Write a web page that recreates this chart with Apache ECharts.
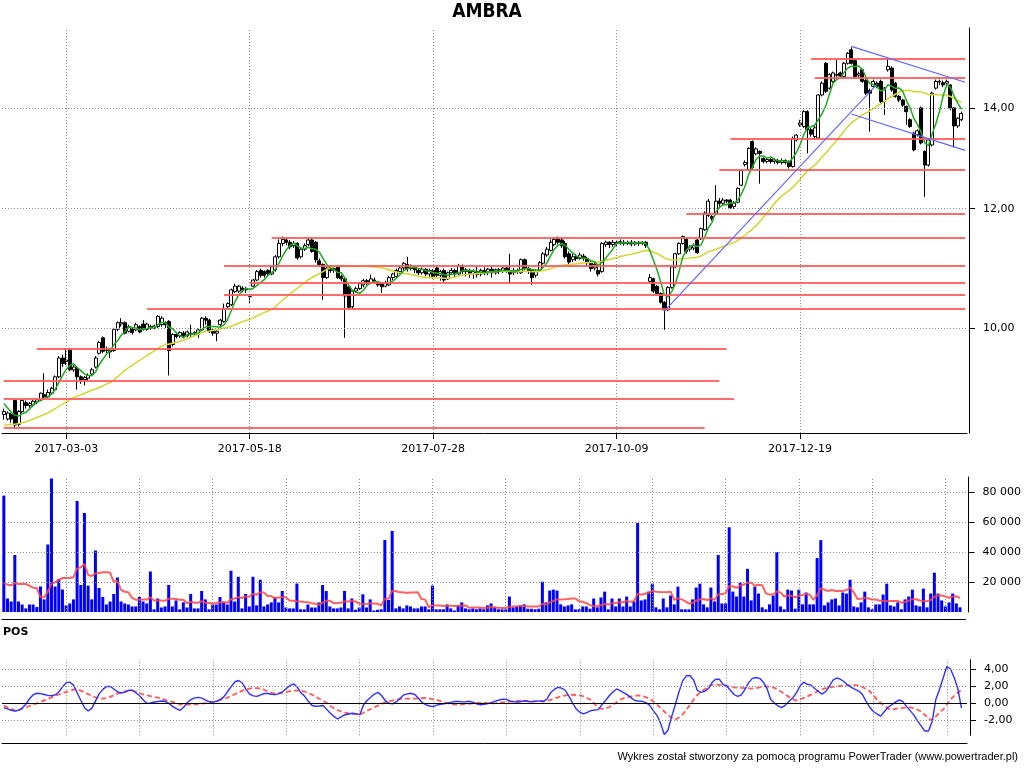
<!DOCTYPE html>
<html><head><meta charset="utf-8">
<script src="https://cdn.jsdelivr.net/npm/echarts@6/dist/echarts.min.js"></script>
<style>html,body{margin:0;padding:0;background:#fff}#c{width:1024px;height:768px}</style>
</head><body><div id="c"></div>
<script>
// ---------- data ----------
const holidays = ['2017-04-14','2017-04-17','2017-05-01','2017-05-03','2017-06-15','2017-08-15','2017-11-01','2017-12-25','2017-12-26','2018-01-01'];
const firstDate = '2017-02-08';
const dayCount = 263;
const tickDates = ['2017-03-03','2017-05-18','2017-07-28','2017-10-09','2017-12-19'];
const priceTicks = [10, 12, 14];
const volumeTicks = [20000, 40000, 60000, 80000];
const posTicks = [-2, 0, 2, 4];

// [open, close, low, high]
const ohlc = [
[8.76,8.80,8.69,8.84],[8.70,8.78,8.68,8.80],[8.76,8.70,8.65,8.78],[8.95,8.62,8.58,8.98],[8.63,8.80,8.60,8.82],
[8.80,8.95,8.78,8.97],[8.92,8.88,8.84,8.95],[8.88,8.91,8.85,8.93],[8.89,8.94,8.86,8.96],[8.93,8.96,8.90,8.98],
[8.96,9.05,8.94,9.06],[9.03,9.00,8.96,9.33],[9.00,9.06,8.98,9.10],[9.05,9.12,9.03,9.14],[9.10,9.28,9.08,9.30],
[9.28,9.55,9.26,9.58],[9.55,9.47,9.42,9.60],[9.50,9.52,9.45,9.70],[9.68,9.38,9.36,9.70],[9.38,9.42,9.35,9.45],
[9.40,9.28,9.10,9.42],[9.28,9.24,9.18,9.30],[9.24,9.27,9.16,9.29],[9.26,9.30,9.22,9.33],[9.32,9.38,9.30,9.41],
[9.42,9.55,9.40,9.58],[9.62,9.78,9.60,9.80],[9.85,9.65,9.62,9.87],[9.66,9.68,9.62,9.72],[9.66,9.64,9.55,9.70],
[9.66,9.98,9.64,10.00],[9.98,10.08,9.95,10.10],[10.06,10.08,10.02,10.15],[10.08,9.92,9.90,10.10],[9.95,10.02,9.93,10.05],
[9.98,9.93,9.90,10.00],[9.97,10.05,9.95,10.08],[10.02,9.94,9.92,10.04],[10.06,9.98,9.96,10.12],[9.98,10.06,9.96,10.08],
[10.02,10.00,9.97,10.05],[10.00,10.03,9.98,10.05],[10.02,10.18,10.00,10.20],[10.05,10.15,10.02,10.18],[10.08,10.05,10.00,10.10],
[10.10,9.66,9.30,10.12],[9.75,9.90,9.72,9.92],[9.90,9.87,9.84,9.93],[9.88,9.93,9.85,9.95],[9.92,9.88,9.85,9.95],
[9.88,9.94,9.86,9.96],[9.92,9.90,9.86,10.05],[9.91,9.93,9.88,9.95],[9.90,9.97,9.85,9.99],[9.97,10.15,9.95,10.17],
[10.15,10.12,10.05,10.18],[10.12,9.95,9.92,10.14],[9.97,9.92,9.88,10.00],[9.92,9.95,9.80,9.97],[10.05,10.12,10.02,10.14],
[10.10,10.30,10.08,10.38],[10.33,10.38,10.30,10.40],[10.36,10.60,10.34,10.62],[10.57,10.66,10.55,10.70],[10.58,10.66,10.55,10.68],
[10.63,10.60,10.56,10.66],[10.60,10.62,10.55,10.65],[10.49,10.49,10.38,10.50],[10.66,10.76,10.64,10.78],[10.76,10.90,10.74,10.93],
[10.92,10.84,10.80,10.95],[10.90,10.84,10.80,10.92],[10.92,10.86,10.82,10.94],[10.86,10.98,10.84,11.00],[10.93,11.15,10.90,11.18],
[11.15,11.38,11.12,11.45],[11.38,11.45,11.33,11.50],[11.44,11.40,11.35,11.48],[11.40,11.32,11.28,11.44],[11.34,11.38,11.30,11.42],
[11.38,11.13,11.10,11.40],[11.15,11.28,11.12,11.30],[11.28,11.34,11.25,11.38],[11.36,11.44,11.33,11.47],[11.44,11.24,11.22,11.46],
[11.40,11.10,11.05,11.42],[11.08,11.02,10.98,11.12],[11.02,10.80,10.44,11.04],[10.80,10.96,10.78,10.98],[10.96,10.92,10.88,10.98],
[10.92,10.95,10.88,10.97],[10.98,10.80,10.78,11.00],[10.82,10.78,10.74,10.85],[10.78,10.50,9.85,10.80],[10.65,10.32,10.30,10.68],
[10.33,10.58,10.30,10.60],[10.58,10.62,10.55,10.65],[10.62,10.70,10.60,10.73],[10.68,10.75,10.64,10.78],[10.75,10.72,10.68,10.78],
[10.72,10.78,10.70,10.85],[10.76,10.73,10.70,10.80],[10.72,10.68,10.65,10.74],[10.70,10.65,10.55,10.72],[10.66,10.72,10.64,10.75],
[10.68,10.80,10.66,10.83],[10.80,10.86,10.76,10.88],[10.82,10.92,10.80,10.95],[10.90,10.96,10.86,11.00],[10.96,11.04,10.92,11.06],
[11.02,10.95,10.90,11.15],[10.95,10.97,10.92,11.02],[10.97,10.93,10.88,11.00],[10.92,10.88,10.84,10.96],[10.88,10.94,10.85,10.97],
[10.94,10.86,10.82,10.96],[10.86,10.92,10.80,10.95],[10.92,10.82,10.78,10.94],[10.96,10.84,10.80,10.98],[10.84,10.90,10.75,10.93],
[10.92,10.76,10.73,10.95],[10.78,10.88,10.76,10.90],[10.88,10.92,10.84,10.96],[10.92,10.86,10.80,10.95],[10.86,11.00,10.84,11.03],
[10.98,10.90,10.86,11.02],[10.90,10.93,10.82,10.96],[10.92,10.86,10.80,10.95],[10.86,10.90,10.78,10.94],[10.90,10.85,10.80,10.98],
[10.86,10.92,10.82,10.95],[10.92,10.88,10.84,10.97],[10.88,10.94,10.84,10.96],[10.94,10.88,10.80,10.98],[10.88,10.93,10.85,10.95],
[10.93,10.90,10.86,10.96],[10.90,10.96,10.88,10.98],[10.96,10.92,10.88,10.98],[10.92,10.86,10.70,11.20],[10.88,10.92,10.84,10.96],
[10.92,10.90,10.86,10.95],[10.88,11.10,10.86,11.12],[11.10,10.95,10.92,11.12],[10.95,10.90,10.86,10.98],[10.92,10.80,10.68,10.94],
[10.84,10.90,10.80,10.93],[10.92,11.05,10.90,11.08],[11.04,11.20,11.02,11.23],[11.18,11.28,11.15,11.32],[11.26,11.40,11.24,11.45],
[11.36,11.45,11.33,11.48],[11.46,11.40,11.36,11.50],[11.44,11.34,11.30,11.48],[11.38,11.15,11.12,11.42],[11.20,11.06,11.02,11.24],
[11.10,11.15,11.06,11.20],[11.15,11.12,11.08,11.20],[11.12,11.18,11.10,11.22],[11.16,11.12,11.08,11.20],[11.12,11.05,11.00,11.15],
[11.05,10.95,10.90,11.08],[10.96,11.02,10.92,11.05],[10.92,10.86,10.82,10.98],[10.90,11.38,10.88,11.40],[11.36,11.40,11.32,11.43],
[11.40,11.36,11.30,11.42],[11.36,11.40,11.32,11.44],[11.40,11.38,11.33,11.43],[11.38,11.41,11.35,11.45],[11.40,11.38,11.34,11.44],
[11.38,11.40,11.35,11.43],[11.40,11.37,11.33,11.44],[11.37,11.40,11.34,11.42],[11.40,11.38,11.34,11.42],[11.38,11.40,11.35,11.42],
[11.40,11.34,11.30,11.42],[10.74,10.80,10.72,10.86],[10.78,10.58,10.55,10.80],[10.66,10.54,10.52,10.68],[10.54,10.40,10.38,10.56],
[10.40,10.28,9.97,10.42],[10.28,10.64,10.26,10.66],[10.64,10.98,10.62,11.00],[10.98,11.20,10.96,11.22],[11.20,11.38,11.18,11.40],
[11.38,11.50,11.36,11.52],[11.46,11.24,11.20,11.48],[11.28,11.32,11.24,11.35],[11.30,11.34,11.26,11.38],[11.44,11.22,11.20,11.46],
[11.46,11.64,11.44,11.66],[11.62,11.92,11.60,11.95],[11.88,12.14,11.85,12.18],[11.86,11.82,11.78,11.88],[11.90,12.14,11.88,12.44],
[12.14,12.10,12.02,12.20],[12.10,12.16,12.06,12.20],[12.16,12.14,12.10,12.18],[12.16,12.02,12.00,12.18],[12.04,12.10,12.00,12.14],
[12.12,12.38,12.10,12.40],[12.44,12.72,12.42,12.75],[12.84,12.88,12.80,12.92],[12.74,13.16,12.72,13.18],[13.30,12.78,12.74,13.32],
[13.05,13.15,13.02,13.18],[13.10,13.06,12.47,13.12],[12.96,12.90,12.86,12.98],[12.90,12.94,12.86,12.98],[12.94,12.90,12.86,12.97],
[12.90,12.93,12.85,12.96],[12.92,12.88,12.84,12.95],[12.88,12.92,12.84,12.96],[12.92,12.88,12.84,12.94],[12.90,12.80,12.76,12.92],
[12.80,13.36,12.78,13.40],[13.33,13.43,13.30,13.45],[13.64,13.68,13.60,13.75],[13.61,13.92,13.58,13.95],[13.92,13.54,13.06,13.95],
[13.54,13.45,13.40,13.58],[13.40,13.58,13.33,13.62],[13.37,14.28,13.35,14.30],[14.28,14.54,14.25,14.58],[14.99,14.36,14.32,15.02],
[14.43,14.73,14.40,14.76],[14.58,14.77,14.55,14.80],[14.73,14.72,14.65,15.07],[14.77,14.70,14.66,14.80],[14.69,14.99,14.66,15.02],
[14.99,15.22,14.96,15.25],[15.30,14.99,14.96,15.36],[15.05,14.69,14.65,15.10],[14.72,14.75,14.66,14.80],[14.84,14.58,14.55,14.86],
[14.60,14.32,14.28,14.63],[14.38,14.32,13.50,14.42],[14.47,14.58,14.44,14.62],[14.54,14.47,14.43,14.58],[14.58,14.14,14.10,14.62],
[14.14,14.43,13.85,14.46],[14.84,14.92,14.80,15.10],[14.88,14.39,14.35,14.92],[14.54,14.25,14.22,14.57],[14.25,14.17,14.12,14.28],
[14.17,14.06,14.02,14.20],[14.03,13.92,13.64,14.05],[13.75,13.61,13.58,13.78],[13.47,13.13,13.10,13.50],[13.44,13.52,13.40,13.55],
[14.00,13.27,13.24,14.03],[13.10,12.83,12.22,13.12],[12.83,13.33,12.80,13.36],[13.23,14.32,13.20,14.35],[14.43,14.58,14.40,14.62],
[14.58,14.57,14.50,14.62],[14.55,14.50,14.45,14.60],[14.54,14.58,14.50,14.62],[14.50,14.00,13.95,14.52],[14.00,13.62,13.18,14.02],
[13.62,13.78,13.58,13.80],[13.75,13.88,13.72,13.92]
];

const volume = [
77600,9000,7000,38000,7000,5000,2400,5000,5000,3300,
17000,8400,45000,89000,17000,22000,15000,4400,5700,8400,
74000,18000,66000,17600,8400,41000,16000,10000,5000,7000,
12000,23000,7000,5700,5000,3700,3700,10000,7000,5700,
27000,1800,9000,3000,3700,18000,3700,7700,1800,6400,
3000,12000,2400,2400,14000,8400,1800,5000,5000,10000,
6400,5000,27500,7000,23500,2400,12000,3700,23500,4400,
21500,3700,5000,6400,10000,6400,14000,3000,2400,2400,
19000,1800,1800,5000,3000,3000,6400,18000,14000,3700,
2400,2400,3000,14000,2400,9000,1500,3000,11800,3000,
8400,1000,1500,1800,48000,8000,54000,2400,3700,2400,
4400,3700,2400,2400,3700,3700,1800,17600,1800,1800,
1800,5000,2400,1000,4400,6400,2400,1800,2400,1800,
2400,1800,4400,5700,3100,1800,1800,1800,10300,3100,
3700,4400,5100,2200,2200,1800,2200,20200,6400,14300,
14900,14300,5100,3700,4400,5100,1800,1800,3700,3700,
2200,9000,3100,9700,13600,1800,9000,3700,9000,3700,
10300,3700,7000,59300,7700,8400,13600,18900,3100,1800,
9000,3100,11000,5100,16900,1800,1800,1800,8400,16300,
18900,5100,3100,16300,7000,38000,5700,5700,56500,13600,
10300,19600,10300,28800,7700,16900,12300,3100,1800,5100,
11000,40000,3700,1800,14900,14300,2200,14900,5100,13000,
5100,5100,36000,47900,4400,6400,8400,9000,4400,13000,
12300,21500,3700,3100,6400,13600,3100,1800,5100,5100,
11600,18900,4400,3700,6400,1800,8400,10300,14900,4400,
3700,15600,3100,12300,26200,12300,7700,3700,6400,12300,
5700,3100
];

const posLine = [
-0.55,-0.7,-0.85,-0.95,-0.85,-0.6,-0.15,0.5,0.98,1.15,
1.1,1.0,0.9,0.86,0.95,1.3,1.9,2.4,2.45,2.1,
1.2,0.3,-0.55,-0.95,-0.6,0.25,1.1,1.6,1.95,1.95,
1.65,1.3,1.18,1.28,1.5,1.5,1.2,0.85,0.35,-0.05,
0.0,0.12,0.18,0.24,0.2,-0.05,-0.4,-0.67,-0.88,-0.5,
0.05,0.4,0.6,0.66,0.58,0.35,0.14,0.12,0.2,0.4,
0.75,1.35,1.96,2.5,2.65,2.35,1.6,1.05,0.84,0.78,
0.95,1.12,1.12,1.03,0.98,1.1,1.35,1.7,2.05,2.25,
1.85,1.2,0.78,0.2,-0.3,-0.38,-0.35,-0.3,-0.75,-1.2,
-1.6,-1.88,-1.6,-1.38,-1.29,-1.2,-1.25,-1.37,-0.25,0.3,
0.67,1.05,1.25,0.85,0.25,-0.05,-0.1,0.15,0.55,0.95,
1.08,1.14,1.0,0.55,0.05,-0.2,-0.35,-0.43,-0.25,-0.15,
-0.1,0.0,0.1,0.18,0.18,0.13,0.15,0.2,0.08,-0.12,
-0.2,-0.15,-0.08,0.08,0.22,0.35,0.45,0.42,0.22,0.15,
0.12,0.18,0.27,0.18,0.15,0.22,0.25,0.15,0.45,1.2,
1.6,1.85,1.75,1.5,0.8,0.0,-0.7,-1.1,-1.29,-1.1,
-0.9,-0.82,-0.78,-0.2,0.3,0.85,1.3,1.65,1.45,1.2,
0.95,0.6,0.3,0.22,0.2,0.05,-0.25,-0.9,-1.45,-2.4,
-3.7,-3.2,-1.6,-0.2,1.3,2.6,3.2,3.2,2.7,1.5,
1.25,1.37,1.7,2.4,2.8,2.8,2.2,2.0,1.5,1.0,
0.78,0.95,1.6,2.4,2.9,3.0,2.9,2.45,1.7,0.4,
0.0,-0.35,-0.55,-0.25,0.2,0.6,1.2,2.0,2.45,2.2,
2.1,1.7,1.35,1.05,1.35,2.0,2.7,2.94,2.8,2.5,
2.1,1.85,1.6,1.4,1.0,0.2,-0.5,-1.0,-1.3,-1.55,
-1.0,-0.5,-0.2,0.1,0.35,0.2,-0.4,-0.9,-1.4,-2.1,
-2.7,-3.3,-3.3,-2.2,0.4,1.6,2.95,4.3,4.0,3.0,
1.7,-0.6
];

const posSignal = [
-0.3,-0.5,-0.7,-0.88,-0.85,-0.68,-0.52,-0.35,-0.2,-0.05,
0.12,0.3,0.48,0.66,0.85,1.0,1.15,1.29,1.42,1.58,
1.62,1.45,1.25,1.05,0.85,0.66,0.58,0.52,0.55,0.72,
0.92,1.1,1.25,1.37,1.43,1.45,1.32,1.15,1.0,0.9,
0.8,0.72,0.62,0.52,0.38,0.22,0.12,0.0,-0.15,-0.2,
-0.2,-0.2,-0.16,-0.12,-0.08,-0.02,0.05,0.12,0.22,0.36,
0.48,0.65,0.8,1.05,1.27,1.45,1.58,1.7,1.76,1.74,
1.7,1.55,1.35,1.2,1.17,1.17,1.18,1.28,1.4,1.46,
1.46,1.45,1.35,1.18,0.98,0.75,0.5,0.27,0.0,-0.35,
-0.62,-0.82,-1.02,-1.12,-1.22,-1.29,-1.33,-1.37,-1.15,-0.92,
-0.7,-0.48,-0.3,-0.1,0.1,0.2,0.3,0.4,0.45,0.5,
0.51,0.51,0.51,0.54,0.57,0.59,0.52,0.45,0.36,0.22,
0.07,-0.05,-0.13,-0.2,-0.18,-0.15,-0.12,-0.08,-0.03,0.02,
0.03,0.01,-0.02,-0.04,-0.02,0.03,0.08,0.12,0.17,0.22,
0.25,0.27,0.26,0.23,0.21,0.2,0.22,0.24,0.26,0.38,
0.52,0.66,0.78,0.88,0.97,0.97,0.94,0.9,0.78,0.58,
0.36,-0.1,-0.55,-0.68,-0.62,-0.5,-0.2,0.1,0.4,0.58,
0.7,0.78,0.85,0.9,0.82,0.68,0.5,0.2,-0.2,-0.6,
-1.0,-1.4,-1.75,-1.96,-1.7,-1.35,-0.8,-0.2,0.4,0.95,
1.35,1.6,1.9,2.15,2.18,2.12,2.08,2.0,1.9,1.84,
1.8,1.77,1.74,1.72,1.7,1.75,1.85,1.95,1.95,1.88,
1.78,1.55,1.3,0.98,0.72,0.45,0.27,0.4,0.6,0.78,
0.98,1.2,1.42,1.6,1.74,1.82,1.9,1.95,2.0,2.04,
2.08,2.1,2.1,2.08,1.9,1.65,1.37,0.9,0.4,0.0,
-0.35,-0.65,-0.78,-0.7,-0.6,-0.58,-0.55,-0.51,-0.6,-0.8,
-1.0,-1.4,-1.8,-2.04,-1.6,-1.1,-0.78,-0.2,0.4,0.85,
1.2,1.55
];

const greenStart = [8.91, 8.85, 8.79, 8.75];
const yellowStart = [8.62,8.62,8.63,8.63,8.64,8.65,8.66,8.68,8.70,8.72,8.74,8.76,8.78,8.81,8.84,8.87,8.90,8.93,8.96,8.99,9.01,9.03,9.05,9.07,9.09,9.11,9.13,9.15,9.18];
const volMaStart = [19300,18200,17800,19300,18700,18700,18700,17500,16200];

// support / resistance levels: [price, start index, end index]
const levels = [
[15.09,220,262],[14.67,221,262],[13.35,198,262],[12.74,195,262],[11.90,186,262],
[11.48,73,262],[10.99,60,262],[10.71,67,262],[10.52,60,262],[10.30,39,262],
[9.68,9,197],[9.22,0,195],[8.97,0,199],[8.59,0,191]
];
// trend lines: [start index, start price, end index, end price]
const trendLines = [[180,10.26,238,14.52],[231,15.38,262,14.56],[231,13.87,262,13.12]];

// ---------- helpers ----------
function tradingDays(start, n, hol) {
  const out = []; const d = new Date(start + 'T00:00:00Z');
  while (out.length < n) {
    const wd = d.getUTCDay(); const s = d.toISOString().slice(0, 10);
    if (wd !== 0 && wd !== 6 && hol.indexOf(s) < 0) out.push(s);
    d.setUTCDate(d.getUTCDate() + 1);
  }
  return out;
}
function sma(values, n, head) {
  return values.map((v, i) => {
    if (i < head.length) return head[i];
    let s = 0; for (let k = i - n + 1; k <= i; k++) s += values[k];
    return +(s / n).toFixed(4);
  });
}
const dates = tradingDays(firstDate, dayCount, holidays);
const closes = ohlc.map(d => d[1]);
const green = sma(closes, 5, greenStart);
const yellow = sma(closes, 30, yellowStart);
const volMa = sma(volume, 10, volMaStart);
const subTickDates = dates.filter((d, i) => i >= 17 && (i - 17) % 20 === 0);

const FONT = '"DejaVu Sans", Verdana, sans-serif';
const fmt2 = v => (+v).toFixed(2).replace('.', ',');
const fmtVol = v => (v / 1000) + ' 000';
const dotted = { color: '#8a8a8a', type: [1, 2], width: 1 };

function gridMarks(xs, ys, extra) {
  return {
    silent: true, symbol: ['none', 'none'], label: { show: false }, animation: false,
    lineStyle: dotted, emphasis: { disabled: true },
    data: xs.map(d => ({ xAxis: d })).concat(ys.map(v => ({ yAxis: v }))).concat(extra || [])
  };
}

function yAx(idx, extra) {
  return Object.assign({
    gridIndex: idx, position: 'right', offset: 2,
    axisLine: { show: true, onZero: false, lineStyle: { color: '#000', width: 1 } },
    axisTick: { show: true, length: 6, lineStyle: { color: '#000' } },
    axisLabel: { color: '#000', fontFamily: FONT, fontSize: 11, margin: 14 },
    splitLine: { show: false }
  }, extra);
}
function xAx(idx, extra) {
  return Object.assign({
    type: 'category', gridIndex: idx, data: dates, boundaryGap: true,
    axisLine: { show: true, onZero: false, lineStyle: { color: '#000', width: 1 } },
    axisTick: { show: false }, axisLabel: { show: false }, splitLine: { show: false }
  }, extra);
}
const isTick = (i, v) => tickDates.indexOf(v) >= 0;

const levelLines = levels.map(l => [
  { coord: [dates[l[1]], l[0]] }, { coord: [dates[l[2]], l[0]] }
]);
const trendMarks = trendLines.map(t => [
  { coord: [dates[t[0]], t[1]], lineStyle: { color: '#6464ff', width: 1.2, type: 'solid', opacity: 1 } },
  { coord: [dates[t[2]], t[3]] }
]);

const option = {
  animation: false,
  backgroundColor: '#ffffff',
  grid: [
    { left: 2, width: 965, top: 28, height: 405 },
    { left: 2, width: 965, top: 477, height: 135 },
    { left: 2, width: 965, top: 659.65, height: 75.65 }
  ],
  xAxis: [
    xAx(0, {
      axisTick: { show: true, interval: isTick, alignWithLabel: true, length: 6, lineStyle: { color: '#000' } },
      axisLabel: { show: true, interval: isTick, color: '#000', fontFamily: FONT, fontSize: 11, margin: 11 }
    }),
    xAx(1, { offset: 7 }),
    xAx(2, { offset: 8 })
  ],
  yAxis: [
    yAx(0, { type: 'log', logBase: 10, min: 8.516, max: 15.82,
      axisTick: { show: true, length: 6, customValues: priceTicks, lineStyle: { color: '#000' } },
      axisLabel: { color: '#000', fontFamily: FONT, fontSize: 11, margin: 14, customValues: priceTicks, formatter: fmt2 } }),
    yAx(1, { type: 'value', min: 0, max: 90000, offset: 3,
      axisTick: { show: true, length: 6, customValues: volumeTicks, lineStyle: { color: '#000' } },
      axisLabel: { color: '#000', fontFamily: FONT, fontSize: 11, margin: 14, customValues: volumeTicks, formatter: fmtVol } }),
    yAx(2, { type: 'value', min: -3.8, max: 5.1, offset: 3,
      axisTick: { show: true, length: 6, customValues: posTicks, lineStyle: { color: '#000' } },
      axisLabel: { color: '#000', fontFamily: FONT, fontSize: 11, margin: 14, customValues: posTicks, formatter: fmt2 } })
  ],
  series: [
    { type: 'line', xAxisIndex: 0, yAxisIndex: 0, data: [], silent: true, z: 1,
      markLine: gridMarks(tickDates, priceTicks) },
    { type: 'candlestick', xAxisIndex: 0, yAxisIndex: 0, data: ohlc, barWidth: 3.5, z: 2,
      itemStyle: { color: '#ffffff', color0: '#000000', borderColor: '#000000', borderColor0: '#000000', borderWidth: 1 },
      markLine: { silent: true, symbol: ['none', 'none'], label: { show: false }, animation: false,
        lineStyle: { color: '#ff5c5c', width: 2, type: 'solid', opacity: 0.9 },
        data: levelLines.concat(trendMarks) } },
    { type: 'line', xAxisIndex: 0, yAxisIndex: 0, data: yellow, showSymbol: false, silent: true, z: 3,
      lineStyle: { color: '#d6d63a', width: 1.6 } },
    { type: 'line', xAxisIndex: 0, yAxisIndex: 0, data: green, showSymbol: false, silent: true, z: 4,
      lineStyle: { color: '#1faa1f', width: 1.5 } },

    { type: 'line', xAxisIndex: 1, yAxisIndex: 1, data: [], silent: true, z: 1,
      markLine: gridMarks(subTickDates, volumeTicks) },
    { type: 'bar', xAxisIndex: 1, yAxisIndex: 1, data: volume, barWidth: 3, silent: true, z: 2,
      itemStyle: { color: '#0000ff' } },
    { type: 'line', xAxisIndex: 1, yAxisIndex: 1, data: volMa, showSymbol: false, silent: true, z: 3,
      lineStyle: { color: '#ff4545', width: 2, opacity: 0.85 } },

    { type: 'line', xAxisIndex: 2, yAxisIndex: 2, data: [], silent: true, z: 1,
      markLine: gridMarks(subTickDates, [4, 2, -2], [{ yAxis: 0, lineStyle: { color: '#000', type: 'solid', width: 1 } }]) },
    { type: 'line', xAxisIndex: 2, yAxisIndex: 2, data: posSignal, showSymbol: false, silent: true, z: 3,
      lineStyle: { color: '#ff3c3c', width: 1.8, type: [5, 3], opacity: 0.85 } },
    { type: 'line', xAxisIndex: 2, yAxisIndex: 2, data: posLine, showSymbol: false, silent: true, z: 4,
      lineStyle: { color: '#2f2fff', width: 1.4 } }
  ],
  graphic: [
    { type: 'text', x: 487, y: 12, silent: true,
      style: { text: 'AMBRA', font: 'bold 19px "DejaVu Sans Condensed", "Liberation Sans Narrow", "DejaVu Sans", sans-serif',
        fill: '#000', align: 'center', textAlign: 'center', verticalAlign: 'middle', textVerticalAlign: 'middle' } },
    { type: 'text', x: 3, y: 632, silent: true,
      style: { text: 'POS', font: 'bold 11px "DejaVu Sans", sans-serif', fill: '#000',
        verticalAlign: 'middle', textVerticalAlign: 'middle' } },
    { type: 'text', x: 1018, y: 757, silent: true,
      style: { text: 'Wykres został stworzony za pomocą programu PowerTrader (www.powertrader.pl)',
        font: '11px "Liberation Sans", Arial, sans-serif', fill: '#000',
        align: 'right', textAlign: 'right', verticalAlign: 'middle', textVerticalAlign: 'middle' } }
  ]
};

const chart = echarts.init(document.getElementById('c'), null, { renderer: 'canvas' });
chart.setOption(option);
</script>
</body></html>
